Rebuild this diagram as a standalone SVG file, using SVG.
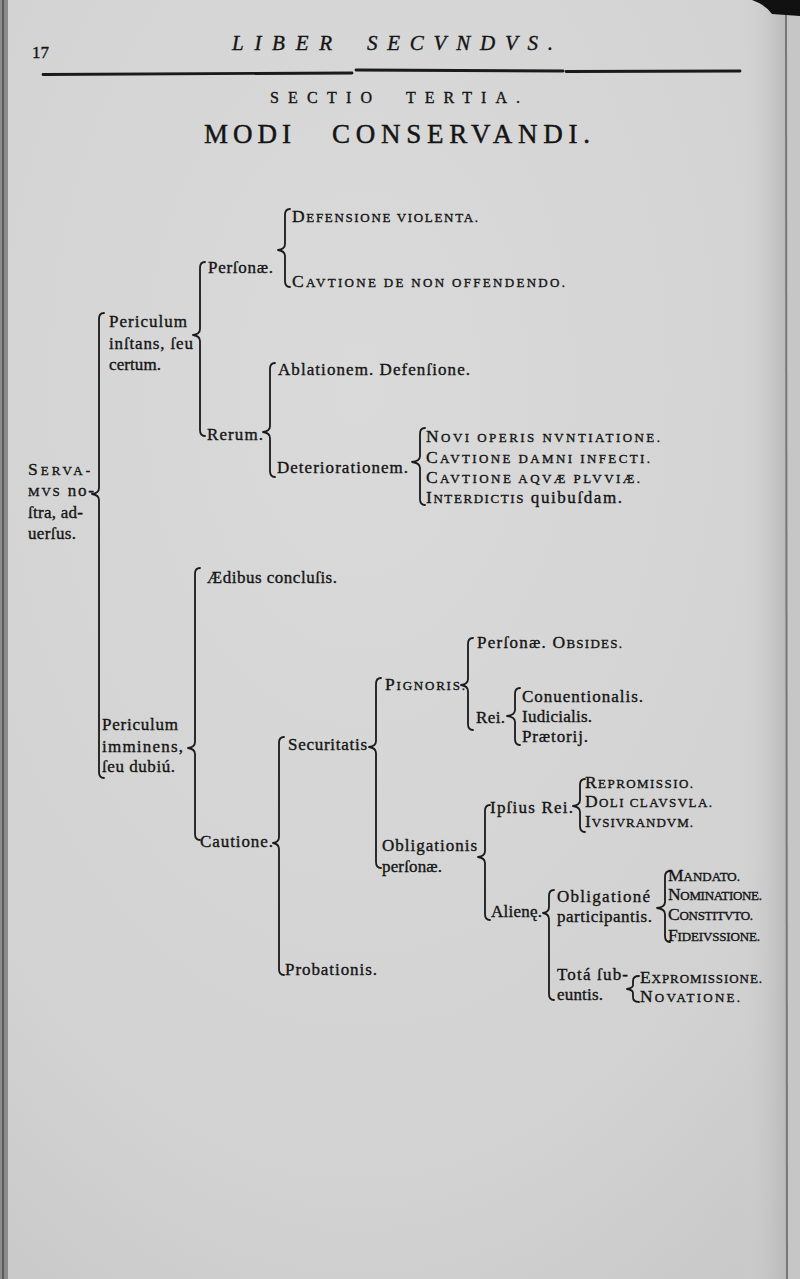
<svg xmlns="http://www.w3.org/2000/svg" width="800" height="1279" viewBox="0 0 800 1279">
<defs>
<radialGradient id="paper" cx="0.45" cy="0.3" r="0.9">
<stop offset="0" stop-color="#dadada"/>
<stop offset="0.7" stop-color="#d2d2d2"/>
<stop offset="1" stop-color="#c6c6c6"/>
</radialGradient>
<linearGradient id="rightfade" x1="0" y1="0" x2="1" y2="0">
<stop offset="0" stop-color="#d2d2d2" stop-opacity="0"/>
<stop offset="1" stop-color="#bababa"/>
</linearGradient>
</defs>
<style>
.t{font-family:"Liberation Serif","DejaVu Serif",serif;font-size:17px;fill:#141414;stroke:#141414;stroke-width:0.35px}
.sc{font-size:13px}
.cap{font-size:17.5px}
.h1{font-size:21px;font-style:italic}
.h2{font-size:16px}
.h3{font-size:27px;stroke-width:0.45px}
.br{fill:none;stroke:#1a1a1a;stroke-width:1.8;stroke-linecap:round;stroke-linejoin:round}
.rule{fill:none;stroke:#1a1a1a;stroke-width:2.8;stroke-linecap:round}
</style>
<!-- page -->
<rect width="800" height="1279" fill="url(#paper)"/>
<rect x="740" y="0" width="46" height="1279" fill="url(#rightfade)"/>
<rect x="786" y="0" width="14" height="1279" fill="#c6c6c6"/>
<line x1="786" y1="14" x2="787" y2="1279" stroke="#777" stroke-width="2"/>
<path d="M752 0 L800 0 L800 16 L772 14 Q766 5 752 0 Z" fill="#111"/>
<rect x="0" y="0" width="8" height="1279" fill="#8c8c8c"/>
<line x1="3" y1="0" x2="3" y2="1279" stroke="#5a5a5a" stroke-width="2"/>

<g id="header">
<text class="t" x="32" y="58">17</text>
<text class="t h1" x="232" y="50" textLength="100">LIBER</text>
<text class="t h1" x="367" y="50" textLength="186">SECVNDVS.</text>
<path class="rule" d="M43 74.5 L352 73"/>
<path class="rule" d="M356 70 L563 71"/>
<path class="rule" d="M566 71.5 L740 71"/>
<text class="t h2" x="270" y="103" textLength="102">SECTIO</text>
<text class="t h2" x="406" y="103" textLength="114">TERTIA.</text>
<text class="t h3" x="204" y="143" textLength="87">MODI</text>
<text class="t h3" x="332" y="143" textLength="258">CONSERVANDI.</text>
</g>

<g id="connectors">
<path class="br" d="M104,313 Q99,313 99,319 L99,488 Q99,493 92,494 Q99,495 99,500 L99,772 Q99,778 104,778"/>
<path class="br" d="M205,262 Q200,262 200,268 L200,329 Q200,334 193,335 Q200,336 200,341 L200,430 Q200,436 205,436"/>
<path class="br" d="M290,209 Q285,209 285,215 L285,244 Q285,249 278,250 Q285,251 285,256 L285,281 Q285,287 290,287"/>
<path class="br" d="M275,363 Q270,363 270,369 L270,426 Q270,431 263,432 Q270,433 270,438 L270,471 Q270,477 275,477"/>
<path class="br" d="M425,428 Q420,428 420,434 L420,456 Q420,461 412,462 Q420,463 420,468 L420,499 Q420,505 425,505"/>
<path class="br" d="M200,568 Q195,568 195,574 L195,742 Q195,747 188,748 Q195,749 195,754 L195,834 Q195,840 200,840"/>
<path class="br" d="M284,737 Q279,737 279,743 L279,837 Q279,842 273,843 Q279,844 279,849 L279,969 Q279,975 284,975"/>
<path class="br" d="M381,678 Q376,678 376,684 L376,741 Q376,746 369,747 Q376,748 376,753 L376,862 Q376,868 381,868"/>
<path class="br" d="M473,638 Q468,638 468,644 L468,679 Q468,684 461,685 Q468,686 468,691 L468,724 Q468,730 473,730"/>
<path class="br" d="M520,688 Q515,688 515,694 L515,710 Q515,715 507,716 Q515,717 515,722 L515,739 Q515,745 520,745"/>
<path class="br" d="M490,805 Q485,805 485,811 L485,851 Q485,856 478,857 Q485,858 485,863 L485,914 Q485,920 490,920"/>
<path class="br" d="M585,779 Q580,779 580,785 L580,800 Q580,805 573,806 Q580,807 580,812 L580,826 Q580,832 585,832"/>
<path class="br" d="M554,890 Q549,890 549,896 L549,907 Q549,912 543,913 Q549,914 549,919 L549,994 Q549,1000 554,1000"/>
<path class="br" d="M670,871 Q665,871 665,877 L665,902 Q665,907 657,908 Q665,909 665,914 L665,936 Q665,942 670,942"/>
<path class="br" stroke-width="2.3" d="M639,976 Q633,976 633,981 L633,985 Q633,988 627,989 Q633,990 633,993 L633,997 Q633,1002 639,1002"/>
</g>

<g id="n-servamus">
<text class="t" x="28" y="475" textLength="62"><tspan class="cap">S</tspan><tspan class="sc">ERVA-</tspan></text>
<text class="t" x="28" y="496" textLength="66"><tspan class="sc">MVS</tspan><tspan> no-</tspan></text>
<text class="t" x="28" y="518" textLength="55">ſtra, ad-</text>
<text class="t" x="28" y="539" textLength="48">uerſus.</text>
</g>

<g id="n-periculum-instans">
<text class="t" x="109" y="327" textLength="78">Periculum</text>
<text class="t" x="109" y="349" textLength="84">inſtans, ſeu</text>
<text class="t" x="109" y="370" textLength="52">certum.</text>
</g>
<g id="n-personae1"><text class="t" x="208" y="273" textLength="65">Perſonæ.</text></g>
<g id="n-defensione-violenta"><text class="t" x="292" y="222" textLength="186"><tspan class="cap">D</tspan><tspan class="sc">EFENSIONE VIOLENTA.</tspan></text></g>
<g id="n-cautione-non-offendendo"><text class="t" x="292" y="287" textLength="273"><tspan class="cap">C</tspan><tspan class="sc">AVTIONE DE NON OFFENDENDO.</tspan></text></g>
<g id="n-rerum"><text class="t" x="207" y="440" textLength="56">Rerum.</text></g>
<g id="n-ablationem"><text class="t" x="278" y="375" textLength="192">Ablationem. Defenſione.</text></g>
<g id="n-deteriorationem"><text class="t" x="277" y="473" textLength="131">Deteriorationem.</text></g>
<g id="n-novi-operis"><text class="t" x="426" y="442" textLength="234"><tspan class="cap">N</tspan><tspan class="sc">OVI OPERIS NVNTIATIONE.</tspan></text></g>
<g id="n-damni-infecti"><text class="t" x="426" y="463" textLength="224"><tspan class="cap">C</tspan><tspan class="sc">AVTIONE DAMNI INFECTI.</tspan></text></g>
<g id="n-aquae-pluviae"><text class="t" x="426" y="483" textLength="214"><tspan class="cap">C</tspan><tspan class="sc">AVTIONE AQVÆ PLVVIÆ.</tspan></text></g>
<g id="n-interdictis"><text class="t" x="426" y="503" textLength="196"><tspan class="cap">I</tspan><tspan class="sc">NTERDICTIS</tspan><tspan> quibuſdam.</tspan></text></g>

<g id="n-periculum-imminens">
<text class="t" x="102" y="730" textLength="76">Periculum</text>
<text class="t" x="102" y="752" textLength="81">imminens,</text>
<text class="t" x="102" y="772" textLength="73">ſeu dubiú.</text>
</g>
<g id="n-aedibus"><text class="t" x="207" y="583" textLength="130">Ædibus concluſis.</text></g>
<g id="n-cautione"><text class="t" x="200" y="847" textLength="73">Cautione.</text></g>
<g id="n-securitatis"><text class="t" x="288" y="750" textLength="79">Securitatis</text></g>
<g id="n-probationis"><text class="t" x="285" y="975" textLength="92">Probationis.</text></g>
<g id="n-pignoris"><text class="t" x="385" y="690" textLength="80"><tspan class="cap">P</tspan><tspan class="sc">IGNORIS.</tspan></text></g>
<g id="n-obligationis-personae">
<text class="t" x="382" y="851" textLength="95">Obligationis</text>
<text class="t" x="382" y="872" textLength="60">perſonæ.</text>
</g>
<g id="n-personae-obsides"><text class="t" x="477" y="648" textLength="145"><tspan>Perſonæ. </tspan><tspan class="cap">O</tspan><tspan class="sc">BSIDES.</tspan></text></g>
<g id="n-rei"><text class="t" x="476" y="723" textLength="29">Rei.</text></g>
<g id="n-conuentionalis"><text class="t" x="522" y="702" textLength="121">Conuentionalis.</text></g>
<g id="n-iudicialis"><text class="t" x="522" y="722" textLength="70">Iudicialis.</text></g>
<g id="n-praetorij"><text class="t" x="522" y="742" textLength="66">Prætorij.</text></g>
<g id="n-ipsius-rei"><text class="t" x="490" y="813" textLength="83">Ipſius Rei.</text></g>
<g id="n-aliene"><text class="t" x="491" y="917" textLength="51">Alienę.</text></g>
<g id="n-repromissio"><text class="t" x="585" y="788" textLength="108"><tspan class="cap">R</tspan><tspan class="sc">EPROMISSIO.</tspan></text></g>
<g id="n-doli-clausula"><text class="t" x="585" y="807" textLength="127"><tspan class="cap">D</tspan><tspan class="sc">OLI CLAVSVLA.</tspan></text></g>
<g id="n-iusiurandum"><text class="t" x="585" y="827" textLength="108"><tspan class="cap">I</tspan><tspan class="sc">VSIVRANDVM.</tspan></text></g>
<g id="n-obligatione-participantis">
<text class="t" x="557" y="902" textLength="93">Obligationé</text>
<text class="t" x="557" y="922" textLength="95">participantis.</text>
</g>
<g id="n-tota-subeuntis">
<text class="t" x="557" y="980" textLength="71">Totá ſub-</text>
<text class="t" x="557" y="1000" textLength="46">euntis.</text>
</g>
<g id="n-mandato"><text class="t" x="668" y="881" textLength="72"><tspan class="cap">M</tspan><tspan class="sc">ANDATO.</tspan></text></g>
<g id="n-nominatione"><text class="t" x="668" y="900" textLength="94"><tspan class="cap">N</tspan><tspan class="sc">OMINATIONE.</tspan></text></g>
<g id="n-constituto"><text class="t" x="668" y="920" textLength="85"><tspan class="cap">C</tspan><tspan class="sc">ONSTITVTO.</tspan></text></g>
<g id="n-fideiussione"><text class="t" x="668" y="941" textLength="92"><tspan class="cap">F</tspan><tspan class="sc">IDEIVSSIONE.</tspan></text></g>
<g id="n-expromissione"><text class="t" x="640" y="983" textLength="122"><tspan class="cap">E</tspan><tspan class="sc">XPROMISSIONE.</tspan></text></g>
<g id="n-novatione"><text class="t" x="640" y="1002" textLength="100"><tspan class="cap">N</tspan><tspan class="sc">OVATIONE.</tspan></text></g>
</svg>
